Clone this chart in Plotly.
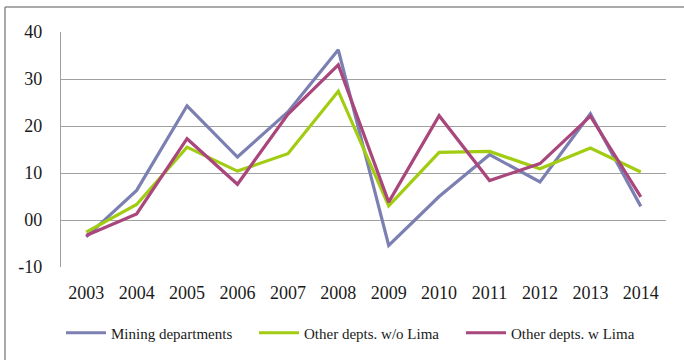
import plotly.graph_objects as go

years = ["2003", "2004", "2005", "2006", "2007", "2008",
         "2009", "2010", "2011", "2012", "2013", "2014"]
mining = [-3.6, 6.3, 24.3, 13.4, 23.0, 36.2, -5.4, 5.0, 13.9, 8.1, 22.6, 2.9]
other_wo_lima = [-2.6, 3.3, 15.5, 10.4, 14.1, 27.4, 3.0, 14.4, 14.6, 10.9, 15.3, 10.2]
other_w_lima = [-3.3, 1.3, 17.3, 7.6, 22.5, 33.0, 3.8, 22.2, 8.4, 12.0, 22.1, 4.9]

y_ticks = [-10, 0, 10, 20, 30, 40]
y_tick_text = ["-10", "00", "10", "20", "30", "40"]

W, H = 684, 360
ml, mr, mt, mb = 61, 18, 32, 92
pw, ph = W - ml - mr, H - mt - mb

# each series gets its own legend box so the entries sit where we want them
series = [
    ("Mining departments", mining, "#7c7fb2", "legend", 61),
    ("Other depts. w/o Lima", other_wo_lima, "#a2cc12", "legend2", 254),
    ("Other depts. w Lima", other_w_lima, "#a9467c", "legend3", 461),
]

serif = "Liberation Serif, Times New Roman, serif"
legend_y = -(333 - (H - mb)) / ph

fig = go.Figure()
legends = {}
for name, vals, color, lg, px in series:
    fig.add_trace(go.Scatter(
        x=years, y=vals, name=name, mode="lines",
        line=dict(color=color, width=3.2), legend=lg,
    ))
    legends[lg] = dict(
        orientation="h", x=(px - ml) / pw, xanchor="left",
        y=legend_y, yanchor="middle",
        font=dict(family=serif, size=15, color="#1a1a1a"),
        itemwidth=40, bgcolor="rgba(0,0,0,0)",
    )

# outer frame (top and left edges visible)
fx = (5 - ml) / pw
fy = (H - mb - 7) / ph
frame = dict(color="#8c8c8c", width=1.5)
fig.add_shape(type="line", xref="paper", yref="paper",
              x0=fx, x1=(W + 10 - ml) / pw, y0=fy, y1=fy, line=frame)
fig.add_shape(type="line", xref="paper", yref="paper",
              x0=fx, x1=fx, y0=fy, y1=-(mb + 10) / ph, line=frame)

fig.update_layout(
    width=W, height=H,
    margin=dict(l=ml, r=mr, t=mt, b=mb),
    paper_bgcolor="white", plot_bgcolor="white",
    font=dict(family=serif, color="#1a1a1a"),
    showlegend=True,
    **legends,
    xaxis=dict(
        type="category", range=[-0.5, 11.5],
        showgrid=False, showline=False, zeroline=False,
        ticks="", tickfont=dict(size=18),
        ticklabelstandoff=13,
    ),
    yaxis=dict(
        range=[-10, 40], tickvals=y_ticks, ticktext=y_tick_text,
        showgrid=True, gridcolor="#a0a0a0", gridwidth=1.3,
        zeroline=False, showline=True, linecolor="#a0a0a0", linewidth=1.3,
        ticks="", tickfont=dict(size=18),
        ticklabelstandoff=14,
    ),
)

fig.write_html("out.html")
